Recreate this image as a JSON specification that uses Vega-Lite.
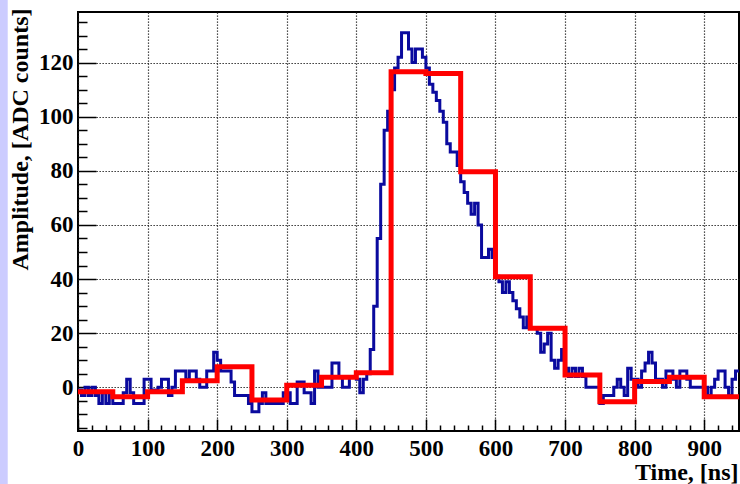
{
  "$schema": "https://vega.github.io/schema/vega-lite/v6.json",
  "width": 661,
  "height": 419,
  "autosize": {"type": "none"},
  "padding": {"left": 78, "top": 12, "right": 1, "bottom": 53},
  "background": "white",
  "config": {
    "view": {"stroke": "black", "strokeWidth": 2},
    "font": "Liberation Serif"
  },
  "datasets": {
    "sampled": [
      {"left":0,"right":5,"amp":-1},{"left":5,"right":10,"amp":-3},{"left":10,"right":15,"amp":0},{"left":15,"right":20,"amp":-3},
      {"left":20,"right":25,"amp":0},{"left":25,"right":30,"amp":-3},{"left":30,"right":35,"amp":-6},{"left":35,"right":40,"amp":-2},
      {"left":40,"right":45,"amp":-6},{"left":45,"right":50,"amp":-2},{"left":50,"right":55,"amp":-6},{"left":55,"right":60,"amp":-6},
      {"left":60,"right":65,"amp":-6},{"left":65,"right":70,"amp":-2},{"left":70,"right":75,"amp":3},{"left":75,"right":80,"amp":-2},
      {"left":80,"right":85,"amp":-6},{"left":85,"right":90,"amp":-6},{"left":90,"right":95,"amp":-6},{"left":95,"right":100,"amp":3},
      {"left":100,"right":105,"amp":3},{"left":105,"right":110,"amp":-1},{"left":110,"right":115,"amp":-1},{"left":115,"right":120,"amp":0},
      {"left":120,"right":125,"amp":3},{"left":125,"right":130,"amp":3},{"left":130,"right":135,"amp":-3},{"left":135,"right":140,"amp":0},
      {"left":140,"right":145,"amp":6},{"left":145,"right":150,"amp":6},{"left":150,"right":155,"amp":6},{"left":155,"right":160,"amp":3},
      {"left":160,"right":165,"amp":6},{"left":165,"right":170,"amp":6},{"left":170,"right":175,"amp":3},{"left":175,"right":180,"amp":0},
      {"left":180,"right":185,"amp":0},{"left":185,"right":190,"amp":6},{"left":190,"right":195,"amp":6},{"left":195,"right":200,"amp":13},
      {"left":200,"right":205,"amp":10},{"left":205,"right":210,"amp":6},{"left":210,"right":215,"amp":6},{"left":215,"right":220,"amp":6},
      {"left":220,"right":225,"amp":2},{"left":225,"right":230,"amp":-3},{"left":230,"right":235,"amp":-3},{"left":235,"right":240,"amp":-3},
      {"left":240,"right":245,"amp":-3},{"left":245,"right":250,"amp":-6},{"left":250,"right":255,"amp":-9},{"left":255,"right":260,"amp":-9},
      {"left":260,"right":265,"amp":-6},{"left":265,"right":270,"amp":-2},{"left":270,"right":275,"amp":-6},{"left":275,"right":280,"amp":-6},
      {"left":280,"right":285,"amp":-6},{"left":285,"right":290,"amp":-6},{"left":290,"right":295,"amp":-6},{"left":295,"right":300,"amp":-2},
      {"left":300,"right":305,"amp":-2},{"left":305,"right":310,"amp":-6},{"left":310,"right":315,"amp":-6},{"left":315,"right":320,"amp":2},
      {"left":320,"right":325,"amp":2},{"left":325,"right":330,"amp":-2},{"left":330,"right":335,"amp":-2},{"left":335,"right":340,"amp":-6},
      {"left":340,"right":345,"amp":6},{"left":345,"right":350,"amp":0},{"left":350,"right":355,"amp":0},{"left":355,"right":360,"amp":0},
      {"left":360,"right":365,"amp":0},{"left":365,"right":370,"amp":9},{"left":370,"right":375,"amp":9},{"left":375,"right":380,"amp":4},
      {"left":380,"right":385,"amp":0},{"left":385,"right":390,"amp":0},{"left":390,"right":395,"amp":4},{"left":395,"right":400,"amp":4},
      {"left":400,"right":405,"amp":3},{"left":405,"right":410,"amp":-2},{"left":410,"right":415,"amp":3},{"left":415,"right":420,"amp":5},
      {"left":420,"right":425,"amp":14},{"left":425,"right":430,"amp":30},{"left":430,"right":435,"amp":55},{"left":435,"right":440,"amp":75},
      {"left":440,"right":445,"amp":95},{"left":445,"right":450,"amp":102},{"left":450,"right":455,"amp":110},{"left":455,"right":460,"amp":118},
      {"left":460,"right":465,"amp":122},{"left":465,"right":470,"amp":131},{"left":470,"right":475,"amp":131},{"left":475,"right":480,"amp":125},
      {"left":480,"right":485,"amp":120},{"left":485,"right":490,"amp":125},{"left":490,"right":495,"amp":125},{"left":495,"right":500,"amp":122},
      {"left":500,"right":505,"amp":118},{"left":505,"right":510,"amp":112},{"left":510,"right":515,"amp":109},{"left":515,"right":520,"amp":106},
      {"left":520,"right":525,"amp":102},{"left":525,"right":530,"amp":98},{"left":530,"right":535,"amp":90},{"left":535,"right":540,"amp":87},
      {"left":540,"right":545,"amp":87},{"left":545,"right":550,"amp":82},{"left":550,"right":555,"amp":76},{"left":555,"right":560,"amp":72},
      {"left":560,"right":565,"amp":68},{"left":565,"right":570,"amp":64},{"left":570,"right":575,"amp":68},{"left":575,"right":580,"amp":60},
      {"left":580,"right":585,"amp":48},{"left":585,"right":590,"amp":48},{"left":590,"right":595,"amp":51},{"left":595,"right":600,"amp":48},
      {"left":600,"right":605,"amp":41},{"left":605,"right":610,"amp":39},{"left":610,"right":615,"amp":35},{"left":615,"right":620,"amp":39},
      {"left":620,"right":625,"amp":35},{"left":625,"right":630,"amp":32},{"left":630,"right":635,"amp":29},{"left":635,"right":640,"amp":26},
      {"left":640,"right":645,"amp":22},{"left":645,"right":650,"amp":26},{"left":650,"right":655,"amp":22},{"left":655,"right":660,"amp":22},
      {"left":660,"right":665,"amp":20},{"left":665,"right":670,"amp":13},{"left":670,"right":675,"amp":16},{"left":675,"right":680,"amp":20},
      {"left":680,"right":685,"amp":10},{"left":685,"right":690,"amp":7},{"left":690,"right":695,"amp":10},{"left":695,"right":700,"amp":14},
      {"left":700,"right":705,"amp":7},{"left":705,"right":710,"amp":4},{"left":710,"right":715,"amp":7},{"left":715,"right":720,"amp":4},
      {"left":720,"right":725,"amp":7},{"left":725,"right":730,"amp":4},{"left":730,"right":735,"amp":0},{"left":735,"right":740,"amp":0},
      {"left":740,"right":745,"amp":0},{"left":745,"right":750,"amp":0},{"left":750,"right":755,"amp":-6},{"left":755,"right":760,"amp":-3},
      {"left":760,"right":765,"amp":-3},{"left":765,"right":770,"amp":-3},{"left":770,"right":775,"amp":0},{"left":775,"right":780,"amp":3},
      {"left":780,"right":785,"amp":0},{"left":785,"right":790,"amp":-3},{"left":790,"right":795,"amp":7},{"left":795,"right":800,"amp":3},
      {"left":800,"right":805,"amp":3},{"left":805,"right":810,"amp":0},{"left":810,"right":815,"amp":6},{"left":815,"right":820,"amp":9},
      {"left":820,"right":825,"amp":13},{"left":825,"right":830,"amp":9},{"left":830,"right":835,"amp":3},{"left":835,"right":840,"amp":3},
      {"left":840,"right":845,"amp":0},{"left":845,"right":850,"amp":6},{"left":850,"right":855,"amp":6},{"left":855,"right":860,"amp":3},
      {"left":860,"right":865,"amp":0},{"left":865,"right":870,"amp":6},{"left":870,"right":875,"amp":6},{"left":875,"right":880,"amp":3},
      {"left":880,"right":885,"amp":0},{"left":885,"right":890,"amp":0},{"left":890,"right":895,"amp":0},{"left":895,"right":900,"amp":0},
      {"left":900,"right":905,"amp":0},{"left":905,"right":910,"amp":-3},{"left":910,"right":915,"amp":0},{"left":915,"right":920,"amp":3},
      {"left":920,"right":925,"amp":6},{"left":925,"right":930,"amp":6},{"left":930,"right":935,"amp":0},{"left":935,"right":940,"amp":-3},
      {"left":940,"right":945,"amp":3},{"left":945,"right":950,"amp":6}
    ],
    "rebinned": [
      {"left":0,"right":50,"amp":-1.6},{"left":50,"right":100,"amp":-3.5},{"left":100,"right":150,"amp":-1.6},
      {"left":150,"right":200,"amp":2.4},{"left":200,"right":250,"amp":7.6},{"left":250,"right":300,"amp":-4.7},
      {"left":300,"right":350,"amp":0.8},{"left":350,"right":400,"amp":3.7},{"left":400,"right":450,"amp":5.4},
      {"left":450,"right":500,"amp":116.6},{"left":500,"right":550,"amp":116.0},{"left":550,"right":600,"amp":79.7},
      {"left":600,"right":650,"amp":40.9},{"left":650,"right":700,"amp":21.8},{"left":700,"right":750,"amp":4.5},
      {"left":750,"right":800,"amp":-5.3},{"left":800,"right":850,"amp":2.1},{"left":850,"right":900,"amp":3.7},
      {"left":900,"right":950,"amp":-3.5}
    ]
  },
  "layer": [
    {
      "data": {"values": [{}]},
      "mark": {"type": "rect", "color": "#ccccff", "clip": false},
      "encoding": {
        "x": {"datum": -112.5, "type": "quantitative", "scale": {"domain": [0, 950], "nice": false, "zero": false}, "axis": null},
        "x2": {"datum": -101},
        "y": {"datum": -40, "type": "quantitative", "scale": {"domain": [-16.15, 138.7], "nice": false, "zero": false}, "axis": null},
        "y2": {"datum": 150}
      }
    },
    {
      "data": {"name": "sampled"},
      "transform": [{"fold": ["left", "right"], "as": ["edge", "t"]}],
      "mark": {"type": "line", "color": "#0a0a9e", "strokeWidth": 3, "strokeJoin": "miter"},
      "encoding": {
        "x": {
          "field": "t", "type": "quantitative",
          "scale": {"domain": [0, 950], "nice": false, "zero": false},
          "axis": {
            "orient": "bottom",
            "values": [0, 100, 200, 300, 400, 500, 600, 700, 800, 900],
            "grid": true, "gridColor": "#1a1a1a", "gridDash": [1.3, 1.7], "gridWidth": 1.2,
            "ticks": false, "domain": false,
            "labelFont": "Liberation Serif", "labelFontWeight": "bold", "labelFontSize": 23,
            "labelColor": "black", "labelBaseline": "alphabetic", "labelPadding": 24,
            "labelFlush": false, "labelOverlap": false,
            "title": "Time, [ns]",
            "titleFont": "Liberation Serif", "titleFontWeight": "bold", "titleFontSize": 24,
            "titleColor": "black", "titleAlign": "right", "titleBaseline": "alphabetic",
            "titleAnchor": "end", "titleX": 660, "titleY": 48
          }
        },
        "y": {
          "field": "amp", "type": "quantitative",
          "scale": {"domain": [-16.15, 138.7], "nice": false, "zero": false},
          "axis": {
            "orient": "left",
            "values": [0, 20, 40, 60, 80, 100, 120],
            "grid": true, "gridColor": "#1a1a1a", "gridDash": [1.3, 1.7], "gridWidth": 1.2,
            "ticks": false, "domain": false,
            "labelFont": "Liberation Serif", "labelFontWeight": "bold", "labelFontSize": 23,
            "labelColor": "black", "labelAlign": "right", "labelBaseline": "middle", "labelPadding": 5,
            "labelFlush": false, "labelOverlap": false,
            "title": "Amplitude, [ADC counts]",
            "titleFont": "Liberation Serif", "titleFontWeight": "bold", "titleFontSize": 24,
            "titleColor": "black", "titleAngle": -90, "titleAlign": "right", "titleBaseline": "alphabetic",
            "titleAnchor": "end", "titleX": -50.5, "titleY": -4
          }
        },
        "order": [{"field": "left"}, {"field": "edge"}]
      }
    },
    {
      "data": {"name": "rebinned"},
      "transform": [{"fold": ["left", "right"], "as": ["edge", "t"]}],
      "mark": {"type": "line", "color": "#ff0000", "strokeWidth": 5, "strokeJoin": "miter"},
      "encoding": {
        "x": {
          "field": "t", "type": "quantitative",
          "scale": {"domain": [0, 950], "nice": false, "zero": false},
          "axis": {
            "orient": "bottom",
            "values": [0,20,40,60,80,100,120,140,160,180,200,220,240,260,280,300,320,340,360,380,400,420,440,460,480,500,520,540,560,580,600,620,640,660,680,700,720,740,760,780,800,820,840,860,880,900,920,940],
            "grid": false, "domain": false, "labels": false, "title": null,
            "ticks": true, "tickColor": "black", "tickWidth": 1.5,
            "tickSize": {"condition": {"test": "datum.value % 100 === 0", "value": -12}, "value": -6}
          }
        },
        "y": {
          "field": "amp", "type": "quantitative",
          "scale": {"domain": [-16.15, 138.7], "nice": false, "zero": false},
          "axis": {
            "orient": "left",
            "values": [-15,-10,-5,0,5,10,15,20,25,30,35,40,45,50,55,60,65,70,75,80,85,90,95,100,105,110,115,120,125,130,135],
            "grid": false, "domain": false, "labels": false, "title": null,
            "ticks": true, "tickColor": "black", "tickWidth": 1.5,
            "tickSize": {"condition": {"test": "datum.value % 20 === 0", "value": -18}, "value": -9}
          }
        },
        "order": [{"field": "left"}, {"field": "edge"}]
      }
    }
  ],
  "resolve": {"axis": {"x": "independent", "y": "independent"}}
}
